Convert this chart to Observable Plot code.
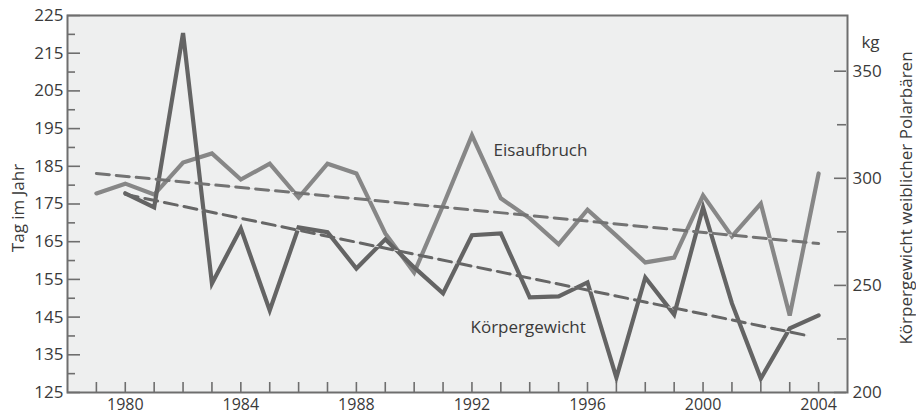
<!DOCTYPE html>
<html><head><meta charset="utf-8">
<script src="https://cdn.jsdelivr.net/npm/d3@7"></script>
<script src="https://cdn.jsdelivr.net/npm/@observablehq/plot@0.6"></script>
<style>
html,body{margin:0;padding:0;background:#fff;}
#chart svg{display:block;}
</style></head><body><div id="chart"></div>
<script>
// ---- data ----
const years = [1979,1980,1981,1982,1983,1984,1985,1986,1987,1988,1989,1990,1991,1992,1993,1994,1995,1996,1997,1998,1999,2000,2001,2002,2003,2004];
const eisaufbruch = [177.8,180.4,177.5,186.0,188.4,181.5,185.7,176.7,185.7,183.1,167.2,156.8,174.6,193.2,176.5,171.2,164.3,173.5,166.6,159.5,160.8,177.3,166.4,175.1,145.4,183.1];
const gewichtYears = [1980,1981,1982,1983,1984,1985,1986,1987,1988,1989,1990,1991,1992,1993,1994,1995,1996,1997,1998,1999,2000,2001,2002,2003,2004];
const gewicht = [293.0,286.4,367.8,250.9,276.6,238.3,277.1,274.8,257.9,271.5,258.4,246.3,273.4,274.3,244.4,244.9,251.4,207.0,253.7,236.4,286.4,241.6,206.5,229.9,236.0];
const eisTrendYears = [1979, 2004];
const eisTrend = [183.1, 164.5];
const gewTrendYears = [1980, 2003.6];
const gewTrend = [292.5, 226.6];
const dayTicks = [125,135,145,155,165,175,185,195,205,215,225];
const dayMinor = [130,140,150,160,170,180,190,200,210,220];
const kgTicks = [200,250,300,350];
const kgMinor = [225,275,325];
const yearLabels = [1980,1984,1988,1992,1996,2000,2004];
const seriesLabels = [
  {text:"Eisaufbruch", year:1992.75, day:189.2},
  {text:"Körpergewicht", year:1991.95, day:142.2}
];
const leftTitle = "Tag im Jahr";
const rightTitle = "Körpergewicht weiblicher Polarbären";
const unitLabel = "kg";

// ---- build ----
const kgToDay = d3.scaleLinear().domain([200, 376]).range([125, 225]);
const eisData = years.map((y, i) => ({year: y, day: eisaufbruch[i]}));
const gewData = gewichtYears.map((y, i) => ({year: y, day: kgToDay(gewicht[i])}));
const eisTrendData = eisTrendYears.map((y, i) => ({year: y, day: eisTrend[i]}));
const gewTrendData = gewTrendYears.map((y, i) => ({year: y, day: kgToDay(gewTrend[i])}));

const axisColor = "#6e6e6e";
const textColor = "#3a3a3a";
const blank = () => "";

const chart = Plot.plot({
  width: 916, height: 414,
  marginLeft: 67, marginRight: 69, marginTop: 15, marginBottom: 22,
  style: {fontFamily: "'Open Sans', sans-serif", fontSize: "17px", color: textColor, background: "#fff"},
  x: {domain: [1978, 2005]},
  y: {domain: [125, 225]},
  marks: [
    Plot.frame({fill: "#eeefef", stroke: null}),
    // left axis
    Plot.axisY(dayTicks, {anchor: "left", tickSize: 0, tickPadding: 4, fontSize: 17, fill: textColor, label: null}),
    Plot.axisY(dayTicks, {anchor: "left", tickSize: 13, dx: 13, tickFormat: blank, label: null, stroke: axisColor, strokeWidth: 1.6}),
    Plot.axisY(dayMinor, {anchor: "left", tickSize: 8, dx: 8, tickFormat: blank, label: null, stroke: axisColor, strokeWidth: 1.6}),
    // right axis (kg)
    Plot.axisY(kgTicks.map(kgToDay), {anchor: "right", tickSize: 0, tickPadding: 5, fontSize: 17, fill: textColor,
      tickFormat: d => String(Math.round(kgToDay.invert(d))), label: null}),
    Plot.axisY(kgTicks.map(kgToDay), {anchor: "right", tickSize: 12, dx: -14, tickFormat: blank, label: null, stroke: axisColor, strokeWidth: 1.6}),
    Plot.axisY(kgMinor.map(kgToDay), {anchor: "right", tickSize: 9, dx: -11, tickFormat: blank, label: null, stroke: axisColor, strokeWidth: 1.6}),
    // x axis
    Plot.axisX(years, {anchor: "bottom", tickSize: 10, dy: -10, tickFormat: blank, label: null, stroke: axisColor, strokeWidth: 1.6}),
    Plot.axisX(yearLabels, {anchor: "bottom", tickSize: 0, tickPadding: 6, fontSize: 16, fill: textColor, tickFormat: d => String(d), label: null}),
    Plot.frame({stroke: axisColor, strokeWidth: 2}),
    // axis titles
    Plot.text([leftTitle], {frameAnchor: "left", rotate: -90, dx: -49, dy: 4, fontSize: 17, fill: textColor, textAnchor: "middle"}),
    Plot.text([rightTitle], {frameAnchor: "right", rotate: -90, dx: 59, dy: -6, fontSize: 17, fill: textColor, textAnchor: "middle"}),
    Plot.text([unitLabel], {frameAnchor: "top-right", dx: 23, dy: 20, fontSize: 17, fill: textColor, textAnchor: "middle"}),
    // series
    Plot.line(eisData, {x: "year", y: "day", stroke: "#878787", strokeWidth: 4.2, strokeLinejoin: "miter", strokeMiterlimit: 4}),
    Plot.line(gewData, {x: "year", y: "day", stroke: "#646464", strokeWidth: 4.2, strokeLinejoin: "miter", strokeMiterlimit: 4}),
    Plot.line(eisTrendData, {x: "year", y: "day", stroke: "#e2e2e2", strokeWidth: 1}),
    Plot.line(gewTrendData, {x: "year", y: "day", stroke: "#e2e2e2", strokeWidth: 1}),
    Plot.line(eisTrendData, {x: "year", y: "day", stroke: "#737373", strokeWidth: 3, strokeDasharray: "13,7"}),
    Plot.line(gewTrendData, {x: "year", y: "day", stroke: "#666666", strokeWidth: 3, strokeDasharray: "13,7"}),
    Plot.text(seriesLabels, {x: "year", y: "day", text: "text", textAnchor: "start", fontSize: 17, fill: textColor})
  ]
});
document.getElementById("chart").appendChild(chart);
</script>
</body></html>
